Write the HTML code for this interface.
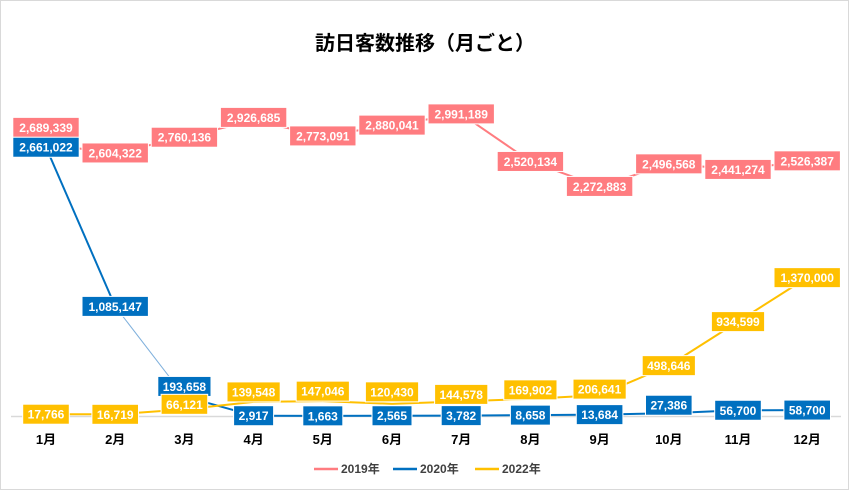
<!DOCTYPE html>
<html><head><meta charset="utf-8"><style>
body{margin:0;background:#fff;font-family:"Liberation Sans","Noto Sans CJK JP",sans-serif}
#wrap{position:relative;width:849px;height:490px;box-sizing:border-box;border:1px solid #d9d9d9}
</style></head><body>
<div id="wrap">
<svg id="chart" width="847" height="488"></svg>
</div>
<script>
const months=["1月","2月","3月","4月","5月","6月","7月","8月","9月","10月","11月","12月"];
const v2019=[2689339,2604322,2760136,2926685,2773091,2880041,2991189,2520134,2272883,2496568,2441274,2526387];
const v2020=[2661022,1085147,193658,2917,1663,2565,3782,8658,13684,27386,56700,58700];
const v2022=[17766,16719,66121,139548,147046,120430,144578,169902,206641,498646,934599,1370000];
const seriesNames=["2019年","2020年","2022年"];
const colors=["#ff7c80","#0070c0","#ffc000"];
const off2019=[-17,0,0,-3,0,0,0,0,0,0,0,0];
const off2020=[0,0,-10,0,0,0,0,0,0,-8,0,0];
const off2022=[0,0,-5,-10,-10,-12,-7,-9,-6,0,0,0];
const NS="http://www.w3.org/2000/svg";
const svg=document.getElementById('chart');
const x=i=>45+69.2*i;
const y=v=>415-v*1.01e-4;
function mk(t,a,p){const e=document.createElementNS(NS,t);for(const k in a)e.setAttribute(k,a[k]);(p||svg).appendChild(e);return e;}
const title=mk('text',{x:424,y:49,'text-anchor':'middle','font-size':20,'font-weight':'bold',fill:'#000'});
title.textContent="訪日客数推移（月ごと）";


const axis=mk('line',{x1:10,x2:840,y1:415.5,y2:415.5,stroke:'#d9d9d9','stroke-width':1.5});


months.forEach((m,i)=>{const t=mk('text',{x:x(i),y:443,'text-anchor':'middle','font-size':13,'font-weight':'bold',fill:'#000'});t.textContent=m;

});
const all=[v2019,v2020,v2022],offs=[off2019,off2020,off2022];
all.forEach((vals,s)=>{
 for(let i=0;i<vals.length-1;i++){
  const thin=(s===1&&i===1);
  const l=mk('line',{x1:x(i),y1:y(vals[i]),x2:x(i+1),y2:y(vals[i+1]),stroke:thin?'#7fb0dc':colors[s],'stroke-width':thin?1:2});
  
  
 }
});
all.forEach((vals,s)=>{
 vals.forEach((v,i)=>{
  const txt=v.toLocaleString('en-US');
  const w=txt.length*6.6+7,cy=y(v)+offs[s][i];
  const g=mk('g',{});
  
  
  mk('rect',{x:x(i)-w/2,y:cy-10,width:w,height:20,fill:colors[s],stroke:'#fff','stroke-width':1},g);
  const t=mk('text',{x:x(i),y:cy+4.5,'text-anchor':'middle','font-size':12,'font-weight':'bold',fill:'#fff'},g);
  t.textContent=txt;
 });
});
const lx=[313,392,474];
seriesNames.forEach((n,s)=>{
 const g=mk('g',{});
 
 
 mk('line',{x1:lx[s],x2:lx[s]+24,y1:468,y2:468,stroke:colors[s],'stroke-width':2.5},g);
 const t=mk('text',{x:lx[s]+27,y:472,'font-size':12,'font-weight':'bold',fill:'#404040'},g);t.textContent=n;
});
</script>
</body></html>
